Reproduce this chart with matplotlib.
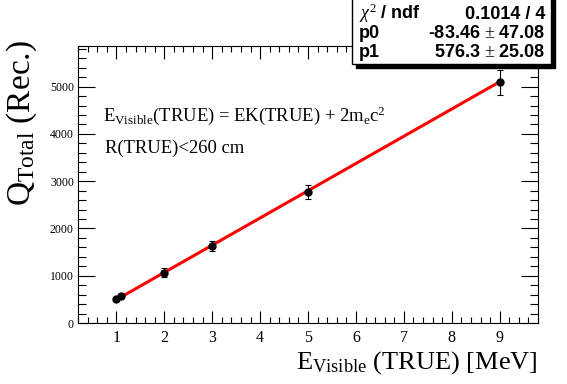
import matplotlib
matplotlib.use('Agg')
import matplotlib.pyplot as plt
from matplotlib.patches import Rectangle
from matplotlib.ticker import MultipleLocator
import numpy as np

e_vis = [1.0, 1.1, 2.0, 3.0, 5.0, 9.0]
q_tot = [505, 565, 1065, 1630, 2770, 5090]
q_err = [35, 40, 95, 115, 140, 270]

# fit result pol1
p0 = -83.46
p1 = 576.3
stats_rows = [(r'$\chi^2$ / ndf', '0.1014 / 4'),
              ('p0', r'-83.46 $\pm$ 47.08'),
              ('p1', r'576.3 $\pm$ 25.08')]

plt.rcParams['mathtext.fontset'] = 'custom'
plt.rcParams['mathtext.rm'] = 'Liberation Serif'
plt.rcParams['mathtext.it'] = 'Liberation Serif:italic'
plt.rcParams['mathtext.bf'] = 'Liberation Sans:bold'

serif = 'Liberation Serif'
sans = 'Liberation Sans'

fig = plt.figure(figsize=(5.67, 3.84), dpi=100)
ax = fig.add_axes([78/567, 61/384, 460/567, 277/384])

xf = np.array([min(e_vis), max(e_vis)])
ax.plot(xf, p0 + p1 * xf, color='red', lw=2.2, zorder=3)
ax.errorbar(e_vis, q_tot, yerr=q_err, fmt='o', color='black', ms=5,
            elinewidth=0.8, capsize=2, capthick=0.8, zorder=4)

ax.set_xlim(0.2, 9.8)
ax.set_ylim(0, 5860)
ax.xaxis.set_major_locator(MultipleLocator(1))
ax.xaxis.set_minor_locator(MultipleLocator(0.2))
ax.yaxis.set_major_locator(MultipleLocator(1000))
ax.yaxis.set_minor_locator(MultipleLocator(200))
ax.tick_params(which='both', direction='in', top=True, right=True, width=0.8)
ax.tick_params(axis='x', which='major', length=9, labelsize=11.5, pad=5)
ax.tick_params(axis='x', which='minor', length=4.5)
ax.tick_params(axis='y', which='major', length=12, labelsize=8.5, pad=3)
ax.tick_params(axis='y', which='minor', length=6)
for lab in ax.get_xticklabels() + ax.get_yticklabels():
    lab.set_fontfamily(serif)
ax.set_xticklabels([str(int(t)) if 1 <= t <= 9 else '' for t in ax.get_xticks()])
for sp in ax.spines.values():
    sp.set_linewidth(0.8)

ax.set_xlabel(r'E$_{\mathrm{Visible}}$ (TRUE) [MeV]', fontsize=19, family=serif,
              loc='right', labelpad=2)
ax.set_ylabel(r'Q$_{\mathrm{Total}}$ (Rec.)', fontsize=24, family=serif,
              loc='top', labelpad=8)
ax.yaxis.label.set_y(1.02)

fig.text(103/567, 1 - 121/384,
         r'E$_{\mathrm{Visible}}$(TRUE) = EK(TRUE) + 2m$_{\mathrm{e}}$c$^{2}$',
         fontsize=13.4, family=serif, va='baseline')
fig.text(105/567, 1 - 153/384, 'R(TRUE)<260 cm', fontsize=13.4, family=serif, va='baseline')

# stats box with shadow
bx0, by0, bw, bh = 352/567, 320/384, 199/567, 70/384
fig.patches.append(Rectangle((bx0 + 4/567, by0 - 4/384), bw, bh, transform=fig.transFigure,
                             facecolor='black', edgecolor='black', zorder=5))
fig.patches.append(Rectangle((bx0, by0), bw, bh, transform=fig.transFigure,
                             facecolor='white', edgecolor='black', lw=1, zorder=6))
row_y = [1 - 19/384, 1 - 38/384, 1 - 57/384]
for (name, val), yy in zip(stats_rows, row_y):
    fig.text(bx0 + 7/567, yy, name, fontsize=13, fontweight='bold', family=sans,
             va='baseline', ha='left', zorder=7)
    fig.text(bx0 + bw - 6/567, yy, val, fontsize=13, fontweight='bold', family=sans,
             va='baseline', ha='right', zorder=7)

fig.savefig('out.png', dpi=100)
